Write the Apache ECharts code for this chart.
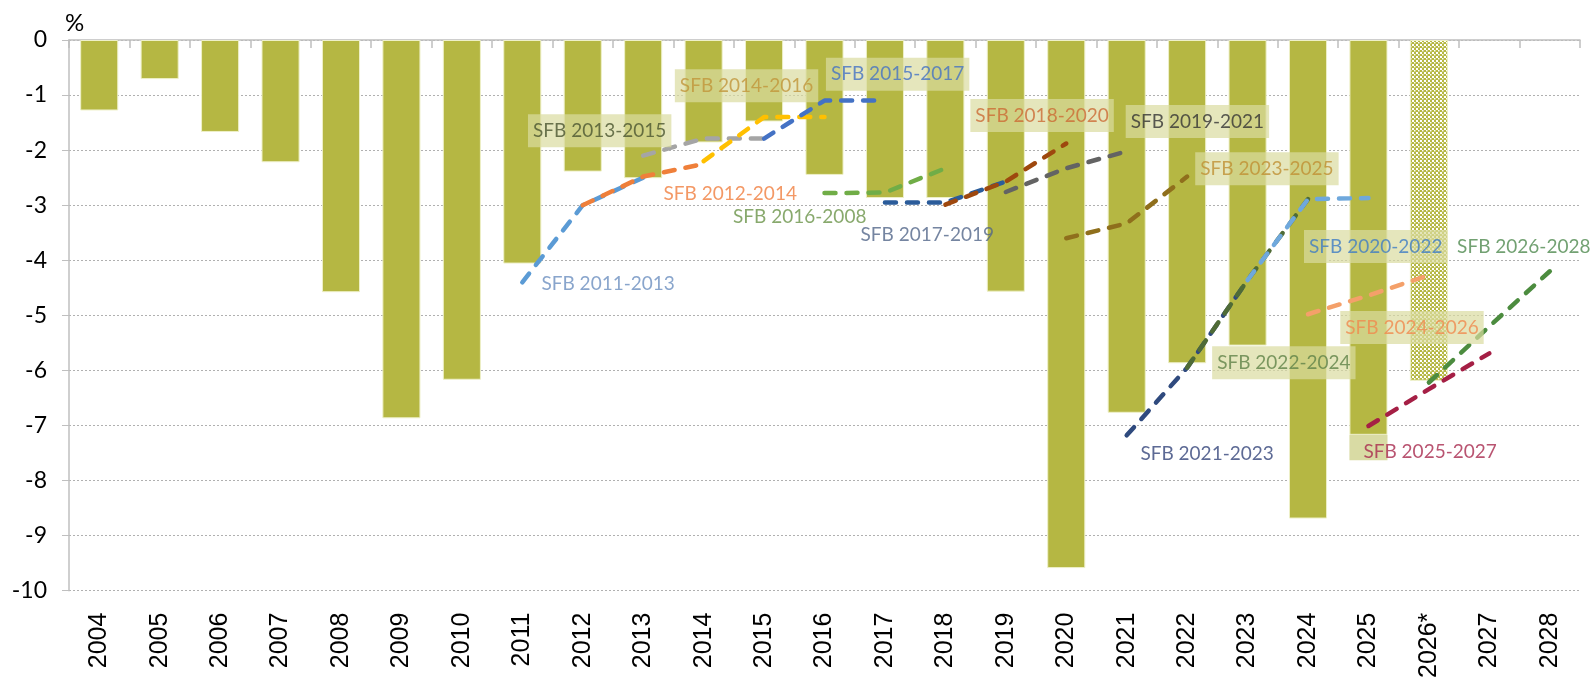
<!DOCTYPE html>
<html>
<head>
<meta charset="utf-8">
<script src="https://cdn.jsdelivr.net/npm/echarts@6/dist/echarts.min.js"></script>
<style>
html,body{margin:0;padding:0;background:#fff;}
#chart{width:1590px;height:681px;}
</style>
</head>
<body>
<div id="chart"></div>
<script>
// ---------- DATA ----------
const categories = ['2004','2005','2006','2007','2008','2009','2010','2011','2012','2013','2014','2015','2016','2017','2018','2019','2020','2021','2022','2023','2024','2025','2026*','2027','2028'];
const balance = [-1.28,-0.71,-1.67,-2.22,-4.58,-6.87,-6.17,-4.06,-2.39,-2.51,-1.86,-1.48,-2.45,-2.87,-2.87,-4.57,-9.59,-6.77,-5.87,-5.55,-8.69,-7.17,-6.19,null,null];
const balance2025Extra = [null,null,null,null,null,null,null,null,null,null,null,null,null,null,null,null,null,null,null,null,null,-0.46,null,null,null];

const sfbNames = ['SFB 2011-2013','SFB 2012-2014','SFB 2013-2015','SFB 2014-2016','SFB 2015-2017','SFB 2016-2018','SFB 2017-2019','SFB 2018-2020','SFB 2019-2021','SFB 2020-2022','SFB 2021-2023','SFB 2022-2024','SFB 2023-2025','SFB 2024-2026','SFB 2025-2027','SFB 2026-2028'];
const sfbStart = ['2011','2012','2013','2014','2015','2016','2017','2018','2019','2020','2021','2022','2023','2024','2025','2026*'];
const sfbValues = [
  [-4.40,-3.00,-2.50],
  [-3.00,-2.48,-2.25],
  [-2.10,-1.79,-1.79],
  [-2.20,-1.40,-1.40],
  [-1.79,-1.10,-1.10],
  [-2.78,-2.77,-2.33],
  [-2.95,-2.95,-2.57],
  [-2.99,-2.57,-1.88],
  [-2.76,-2.33,-2.02],
  [-3.60,-3.33,-2.48],
  [-7.18,-5.95,-4.36],
  [-5.95,-4.36,-2.89],
  [-4.36,-2.89,-2.87],
  [-4.98,-4.64,-4.27],
  [-7.01,-6.34,-5.69],
  [-6.22,-5.20,-4.20]
];

// label texts and their anchors (category index, value)
const labelTexts = ['SFB 2011-2013','SFB 2012-2014','SFB 2013-2015','SFB 2014-2016','SFB 2015-2017','SFB 2016-2008','SFB 2017-2019','SFB 2018-2020','SFB 2019-2021','SFB 2023-2025','SFB 2020-2022','SFB 2021-2023','SFB 2022-2024','SFB 2024-2026','SFB 2025-2027','SFB 2026-2028'];
const labelIdx = [8.42,10.44,8.28,10.71,13.21,11.59,13.70,15.60,18.17,19.32,21.12,18.33,19.60,21.72,22.02,23.57];
const labelVal = [-4.43,-2.80,-1.65,-0.83,-0.62,-3.21,-3.54,-1.37,-1.48,-2.34,-3.75,-7.52,-5.86,-5.22,-7.48,-3.75];

const yTicks = [0,-1,-2,-3,-4,-5,-6,-7,-8,-9,-10];

// ---------- STYLES ----------
const barColor = '#B5B743';
const lineColors = ['#5B9BD5','#EF7F3A','#A5A5A5','#FFC000','#4472C4','#70AD47','#2B5C9A','#9E480E','#636363','#8F6F1C','#2F4A7E','#4F6B36','#6FA8DC','#F4A06A','#A51F45','#4C8C3F'];
const labelColors = ['#6C8EBF','#F07E3F','#4A5530','#C0953A','#4472C4','#6A9349','#52668A','#CC6A35','#333333','#BF9033','#3D7CC4','#34457A','#5F8247','#F08A4E','#A8294E','#4F8A4F'];
const labelBoxed = [false,false,true,true,true,false,false,true,true,true,true,false,true,true,false,false];
const boxColor = 'rgba(218,220,160,0.88)';

// dotted pattern for 2026*
const pc = document.createElement('canvas');
pc.width = 4; pc.height = 4;
const pctx = pc.getContext('2d');
pctx.fillStyle = barColor; pctx.fillRect(0,0,4,4);
pctx.fillStyle = '#ffffff';
pctx.fillRect(0,0,2,2);
pctx.fillRect(2,2,1.5,1.5);

const barData = balance.map((v,i) => {
  if (categories[i] === '2026*') {
    return {value: v, itemStyle: {color: {image: pc, repeat: 'repeat'}}};
  }
  return v;
});

const lineSeries = sfbValues.map((vals, k) => {
  const s = categories.indexOf(sfbStart[k]);
  const data = vals.map((v, j) => [categories[s + j], v]);
  return {
    name: sfbNames[k], type: 'line', xAxisIndex: 0, yAxisIndex: 0,
    data: data, symbol: 'none', z: 5 + k * 0.01,
    lineStyle: {color: lineColors[k], width: 4.5, type: [11, 11], cap: 'round'},
    silent: true, animation: false
  };
});

const labelData = labelTexts.map((t, i) => ({
  value: [labelIdx[i], labelVal[i]],
  label: {
    show: true, position: 'inside', formatter: t,
    color: labelColors[i], fontFamily: 'Lato', fontSize: 19,
    backgroundColor: labelBoxed[i] ? boxColor : 'transparent',
    padding: labelBoxed[i] ? [7, 5, 7, 5] : 0
  }
}));

const chart = echarts.init(document.getElementById('chart'), null, {renderer: 'canvas'});
chart.setOption({
  animation: false,
  backgroundColor: '#ffffff',
  grid: {left: 69, right: 10, top: 40, bottom: 90, containLabel: false},
  xAxis: [
    {type: 'category', data: categories, position: 'top', boundaryGap: true,
     axisLine: {show: true, onZero: false, lineStyle: {color: '#BFBFBF', width: 1.5}},
     axisTick: {show: true, inside: true, length: 8, lineStyle: {color: '#BFBFBF', width: 1.5}},
     axisLabel: {show: false}, splitLine: {show: false}},
    {type: 'category', data: categories, position: 'bottom', boundaryGap: true,
     axisLine: {show: false, onZero: false}, axisTick: {show: false}, splitLine: {show: false},
     axisLabel: {show: true, rotate: 90, margin: 22, color: '#000', fontFamily: 'Liberation Sans', fontSize: 25, interval: 0}},
    {type: 'value', min: -0.5, max: 24.5, show: false}
  ],
  yAxis: [{
    type: 'value', min: -10, max: 0, interval: 1,
    axisLine: {show: true, onZero: false, lineStyle: {color: '#BFBFBF', width: 1.5}},
    axisTick: {show: true, length: 7, lineStyle: {color: '#BFBFBF'}},
    axisLabel: {color: '#000', fontFamily: 'Lato', fontSize: 23, margin: 22,
                formatter: v => (yTicks.indexOf(v) >= 0 ? String(v) : '')},
    splitLine: {show: true, lineStyle: {color: '#B0B0B0', type: [2, 2], width: 1}}
  }],
  graphic: [{type: 'text', left: 65, top: 11, style: {text: '%', fontFamily: 'Lato', fontSize: 24, fill: '#000'}}],
  series: [
    {type: 'bar', name: 'balance', xAxisIndex: 0, yAxisIndex: 0, stack: 'b', data: barData,
     barCategoryGap: '37%', z: 2,
     itemStyle: {color: barColor, borderColor: '#EEF0C8', borderWidth: 1}},
    {type: 'bar', name: 'extra', xAxisIndex: 0, yAxisIndex: 0, stack: 'b', data: balance2025Extra,
     barCategoryGap: '37%', z: 2,
     itemStyle: {color: '#D9DBA4', borderWidth: 0}},
    ...lineSeries,
    {type: 'scatter', name: 'labels', xAxisIndex: 2, yAxisIndex: 0, symbolSize: 0,
     data: labelData, z: 10, silent: true}
  ]
});
</script>
</body>
</html>
